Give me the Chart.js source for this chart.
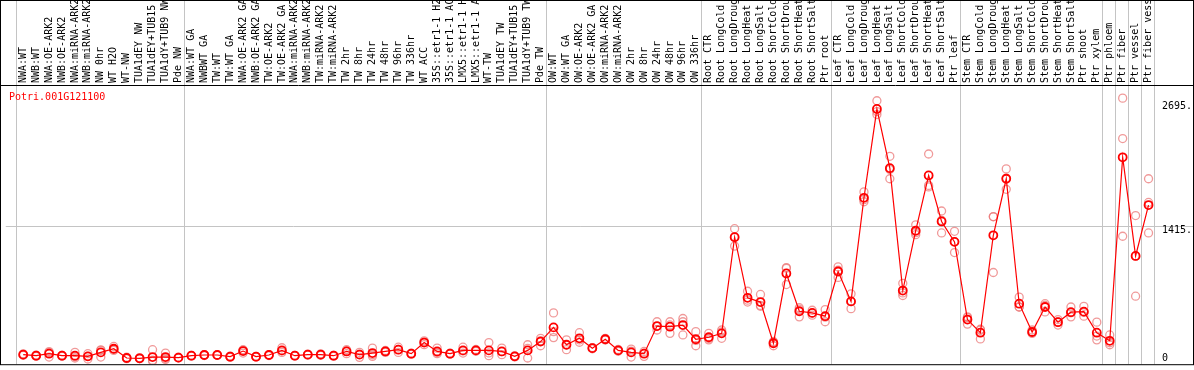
<!DOCTYPE html>
<html>

<head>
  <title>Potri.001G121100</title>
  <script src="https://cdn.jsdelivr.net/npm/chart.js@4.4.1/dist/chart.umd.min.js"></script>
  <style>
    body {
      margin: 0;
      background-color: white;
    }

    .chart-container {
      width: 1194px;
      height: 370px;
    }
  </style>
</head>

<body>
  <div class="chart-container">
    <canvas id="exprChart"></canvas>
  </div>

  <script>
    const geneName = 'Potri.001G121100';

    const samples = [
      'NWA:WT', 'NWB:WT', 'NWA:OE-ARK2', 'NWB:OE-ARK2', 'NWA:miRNA-ARK2', 'NWB:miRNA-ARK2',
      'NW 0hr', 'WT H2O', 'WT-NW', 'TUA1dEY NW', 'TUA1dEY+TUB15 NW', 'TUA1dY+TUB9 NW', 'Pde NW',
      'NWA:WT GA', 'NWBWT GA', 'TW:WT', 'TW:WT GA', 'NWA:OE-ARK2 GA', 'NWB:OE-ARK2 GA',
      'TW:OE-ARK2', 'TW:OE-ARK2 GA', 'NWA:miRNA-ARK2', 'NWB:miRNA-ARK2', 'TW:miRNA-ARK2',
      'TW:miRNA-ARK2', 'TW 2hr', 'TW 8hr', 'TW 24hr', 'TW 48hr', 'TW 96hr', 'TW 336hr',
      'WT ACC', '35S::etr1-1 H2O', '35S::etr1-1 ACC', 'LMX5::etr1-1 H2O', 'LMX5::etr1-1 ACC',
      'WT-TW', 'TUA1dEY TW', 'TUA1dEY+TUB15 TW', 'TUA1dY+TUB9 TW', 'Pde TW',
      'OW:WT', 'OW:WT GA', 'OW:OE-ARK2', 'OW:OE-ARK2 GA', 'OW:miRNA-ARK2', 'OW:miRNA-ARK2',
      'OW 2hr', 'OW 8hr', 'OW 24hr', 'OW 48hr', 'OW 96hr', 'OW 336hr',
      'Root CTR', 'Root LongCold', 'Root LongDrought', 'Root LongHeat', 'Root LongSalt',
      'Root ShortCold', 'Root ShortDrought', 'Root ShortHeat', 'Root ShortSalt', 'Ptr root',
      'Leaf CTR', 'Leaf LongCold', 'Leaf LongDrought', 'Leaf LongHeat', 'Leaf LongSalt',
      'Leaf ShortCold', 'Leaf ShortDrought', 'Leaf ShortHeat', 'Leaf ShortSalt', 'Ptr leaf',
      'Stem CTR', 'Stem LongCold', 'Stem LongDrought', 'Stem LongHeat', 'Stem LongSalt',
      'Stem ShortCold', 'Stem ShortDrought', 'Stem ShortHeat', 'Stem ShortSalt', 'Ptr shoot',
      'Ptr xylem', 'Ptr phloem', 'Ptr fiber', 'Ptr vessel', 'Ptr fiber vessel'
    ];

    // group boundaries (index of first sample after a separator)
    const groupBreaks = [0, 13, 41, 53, 63, 73, 84, 85, 86, 87, 88];

    const meanValues = [
      87, 76, 97, 76, 76, 69, 110, 148, 52, 49, 62, 62, 56,
      76, 83, 83, 66, 124, 66, 83, 131, 76, 87, 87, 76, 120, 87, 103, 120, 138, 97,
      212, 120, 97, 131, 131, 131, 120, 69, 131, 222,
      369, 189, 256, 154, 246, 131, 110, 97, 383, 376, 393, 246,
      267, 307, 1302, 675, 631, 205, 927, 536, 519, 485,
      947, 638, 1710, 2629, 2016, 750, 1369, 1941, 1465, 1254,
      450, 314, 1322, 1907, 614, 321, 580, 423, 526, 532,
      314, 230, 2129, 1108, 1635
    ];

    const rep1 = [
      95, 70, 110, 80, 110, 97, 131, 131, 60, 55, 138, 103, 60,
      80, 88, 85, 72, 103, 70, 88, 110, 80, 92, 95, 80, 138, 110, 154, 130, 164, 102,
      190, 154, 102, 164, 140, 212, 154, 75, 189, 256,
      519, 240, 314, 160, 255, 140, 144, 120, 427, 427, 461, 325,
      307, 342, 1390, 743, 710, 223, 981, 573, 546, 553,
      995, 716, 1771, 2714, 2139, 825, 1430, 2163, 1573, 1363,
      478, 342, 1516, 2009, 682, 342, 614, 450, 580, 587,
      423, 291, 2741, 1526, 1907
    ];

    const rep2 = [
      80, 82, 62, 70, 52, 42, 62, 172, 45, 45, 18, 36, 52,
      72, 78, 80, 60, 138, 62, 78, 158, 72, 82, 80, 70, 97, 59, 69, 110, 110, 92,
      230, 97, 92, 103, 122, 76, 87, 63, 52, 179,
      263, 138, 215, 148, 238, 122, 62, 69, 342, 307, 291, 179,
      240, 256, 1210, 631, 587, 179, 812, 478, 495, 427,
      886, 563, 1669, 2571, 1907, 699, 1328, 1822, 1346, 1143,
      403, 250, 937, 1798, 580, 307, 529, 393, 478, 485,
      240, 189, 2323, 692, 1662
    ];

    const rep3 = [
      86, 76, 119, 78, 66, 68, 137, 141, 51, 47, 30, 47, 56,
      76, 83, 84, 66, 131, 66, 83, 125, 76, 87, 86, 78, 125, 92, 86, 120, 140, 97,
      216, 109, 97, 126, 131, 105, 119, 69, 152, 231,
      325, 189, 239, 154, 245, 131, 124, 102, 380, 394, 427, 234,
      254, 323, 1306, 651, 596, 213, 988, 557, 516, 475,
      960, 635, 1690, 2602, 2002, 726, 1349, 1838, 1476, 1256,
      469, 350, 1513, 1914, 580, 314, 597, 426, 520, 524,
      279, 210, 1312, 1106, 1346
    ];

    const yTickValues = [0, 1415, 2695];

    const monoFont = "'DejaVu Sans Mono', 'Liberation Mono', monospace";

    function toPoints(values) {
      return values.map((v, i) => ({ x: i, y: v }));
    }

    // frame, header line, group separators, gene name
    const framePlugin = {
      id: 'frame',
      beforeDatasetsDraw(chart) {
        const ctx = chart.ctx;
        const xs = chart.scales.x;
        ctx.save();
        ctx.strokeStyle = '#c4c4c4';
        ctx.lineWidth = 1;
        groupBreaks.forEach(b => {
          const px = Math.round(xs.getPixelForValue(b - 0.5)) - 0.5;
          ctx.beginPath();
          ctx.moveTo(px, 0);
          ctx.lineTo(px, chart.chartArea.bottom);
          ctx.stroke();
        });
        ctx.restore();
      },
      afterDraw(chart) {
        const ctx = chart.ctx;
        const top = chart.chartArea.top;
        ctx.save();
        ctx.strokeStyle = '#000';
        ctx.lineWidth = 1;
        ctx.strokeRect(0.5, 0.5, chart.width - 1, chart.chartArea.bottom);
        ctx.beginPath();
        ctx.moveTo(0, top + 0.5);
        ctx.lineTo(chart.width, top + 0.5);
        ctx.stroke();
        ctx.fillStyle = '#ff0000';
        ctx.font = '10px ' + monoFont;
        ctx.textBaseline = 'middle';
        ctx.fillText(geneName, 9, top + 12);
        ctx.restore();
      }
    };

    const repStyle = {
      showLine: false,
      pointStyle: 'circle',
      pointRadius: 4,
      pointBorderWidth: 1.3,
      pointBorderColor: 'rgba(235, 120, 120, 0.75)',
      pointBackgroundColor: 'rgba(0,0,0,0)',
      order: 2
    };

    const ctx = document.getElementById('exprChart').getContext('2d');
    new Chart(ctx, {
      type: 'line',
      data: {
        datasets: [
          Object.assign({ label: 'rep1', data: toPoints(rep1) }, repStyle),
          Object.assign({ label: 'rep2', data: toPoints(rep2) }, repStyle),
          Object.assign({ label: 'rep3', data: toPoints(rep3) }, repStyle),
          {
            label: geneName,
            data: toPoints(meanValues),
            borderColor: '#ff0000',
            borderWidth: 1.2,
            pointStyle: 'circle',
            pointRadius: 4,
            pointBorderWidth: 1.8,
            pointBorderColor: '#ff0000',
            pointBackgroundColor: 'rgba(0,0,0,0)',
            tension: 0,
            order: 0
          }
        ]
      },
      options: {
        responsive: true,
        maintainAspectRatio: false,
        animation: false,
        layout: {
          padding: { left: 0, right: 0, top: 0, bottom: 2 }
        },
        plugins: {
          legend: { display: false },
          title: { display: false },
          tooltip: { enabled: false }
        },
        scales: {
          x: {
            type: 'linear',
            position: 'top',
            min: -1.3462,
            max: 87.577,
            afterBuildTicks: function (scale) {
              scale.ticks = samples.map((s, i) => ({ value: i }));
            },
            afterFit: function (scale) {
              scale.height = 85;
            },
            grid: { display: false, drawTicks: false },
            border: { display: false },
            ticks: {
              autoSkip: false,
              minRotation: 90,
              maxRotation: 90,
              padding: 2,
              labelOffset: 12,
              color: '#000',
              font: { family: monoFont, size: 10 },
              callback: function (value) {
                return samples[value];
              }
            }
          },
          y: {
            type: 'linear',
            position: 'right',
            min: -12,
            max: 2877,
            afterBuildTicks: function (scale) {
              scale.ticks = yTickValues.map(v => ({ value: v }));
            },
            afterFit: function (scale) {
              scale.width = 38;
            },
            border: { display: false },
            grid: {
              drawTicks: true,
              tickLength: 38,
              color: function (c) {
                return c.tick && c.tick.value === 1415 ? '#c4c4c4' : 'rgba(0,0,0,0)';
              }
            },
            ticks: {
              padding: -32,
              labelOffset: 4,
              color: '#000',
              font: function (c) {
                return {
                  family: monoFont,
                  size: 10,
                  lineHeight: c.tick && c.tick.value === 0 ? '18px' : 1.2
                };
              },
              callback: function (value) {
                return value === 0 ? ['0', ''] : value + '.';
              }
            }
          }
        }
      },
      plugins: [framePlugin]
    });
  </script>
</body>

</html>
